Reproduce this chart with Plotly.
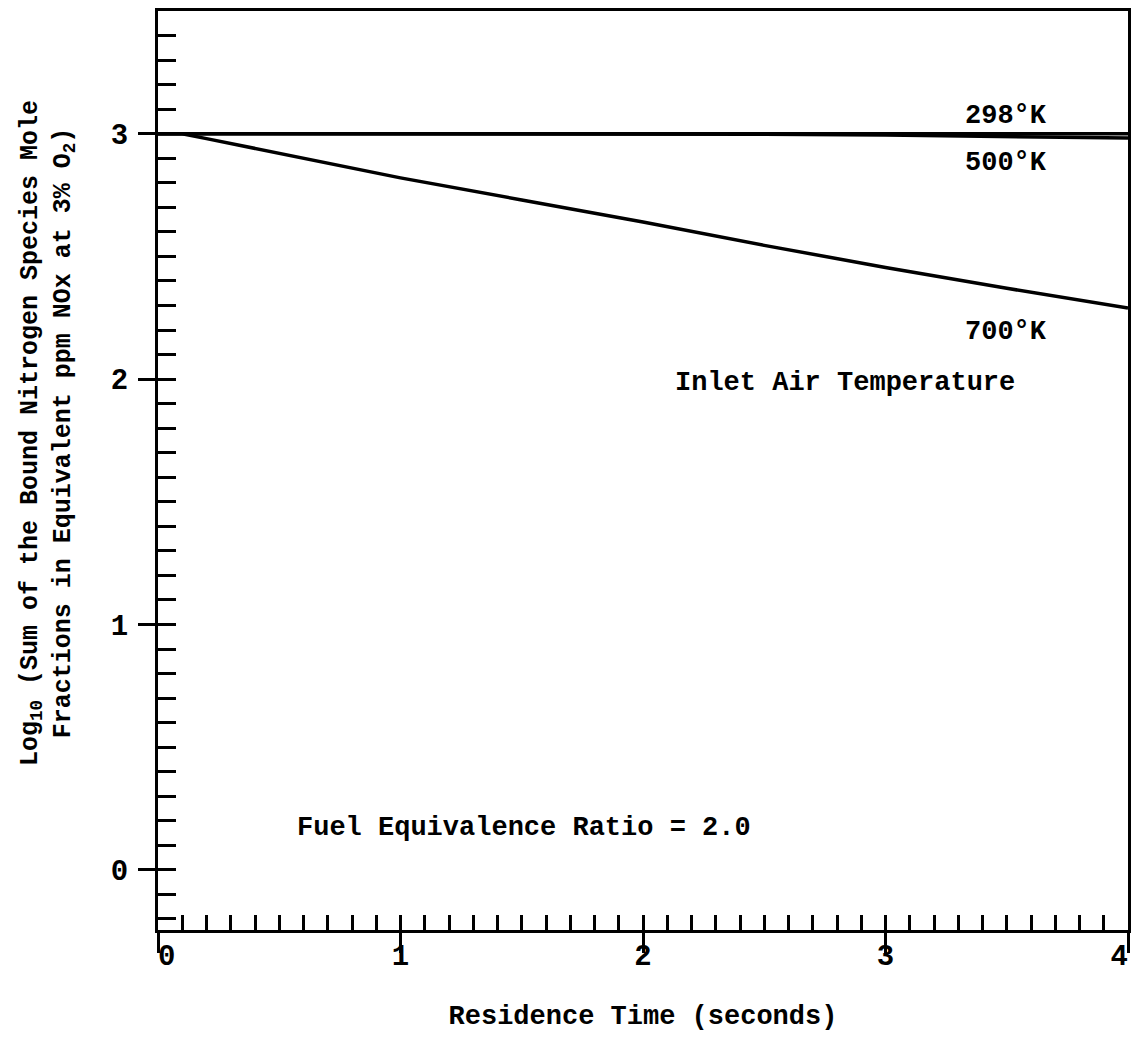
import plotly.graph_objects as go

# Data
time_s = [0.0, 0.1, 0.2, 0.5, 1.0, 1.5, 2.0, 2.5, 3.0, 3.5, 4.0]
log_298K = [3.0, 3.0, 3.0, 3.0, 3.0, 3.0, 3.0, 3.0, 3.0, 3.0, 3.0]
log_500K = [3.0, 3.0, 3.0, 3.0, 3.0, 3.0, 3.0, 2.998, 2.995, 2.99, 2.982]
log_700K = [3.0, 3.0, 2.98, 2.92, 2.82, 2.73, 2.64, 2.545, 2.455, 2.37, 2.29]

x_tick_vals = [0, 1, 2, 3, 4]
x_tick_text = ["&nbsp;0", "1", "2", "3", "4&nbsp;"]
y_tick_vals = [0, 1, 2, 3]
y_tick_text = ["0", "1", "2", "3"]

series_names = ["298°K", "500°K", "700°K"]

FONT = "Liberation Mono"
INK = "black"

fig = go.Figure()
for name, vals in zip(series_names, [log_298K, log_500K, log_700K]):
    fig.add_trace(go.Scatter(x=time_s, y=vals, mode="lines", name=name,
                             line=dict(color=INK, width=3.5), showlegend=False))

# invisible trace so the overlay (minor tick) axes are drawn
fig.add_trace(go.Scatter(x=[None], y=[None], xaxis="x2", yaxis="y2",
                         showlegend=False, hoverinfo="skip"))

XR = [0, 4]
YR = [-0.245, 3.50]

PAD = "&nbsp;" * 5

fig.update_layout(
    width=1123, height=1030,
    margin=dict(l=150, r=3, t=3, b=108, autoexpand=False),
    paper_bgcolor="white", plot_bgcolor="white",
    font=dict(family=FONT, color=INK, size=27, weight="bold"),
    xaxis=dict(range=XR, tickvals=x_tick_vals, ticktext=x_tick_text,
               ticks="outside", ticklen=20, tickwidth=3, tickcolor=INK,
               showgrid=False, zeroline=False, automargin=False,
               showline=True, linewidth=3, linecolor=INK, mirror=True,
               tickfont=dict(size=29, family=FONT, weight="bold"),
               ticklabelstandoff=-23, ticklabeloverflow="allow",
               title=dict(text="Residence Time (seconds)", standoff=33,
                          font=dict(size=27, family=FONT, weight="bold"))),
    yaxis=dict(range=YR, tickvals=y_tick_vals, ticktext=y_tick_text,
               ticks="outside", ticklen=17, tickwidth=3, tickcolor=INK,
               showgrid=False, zeroline=False, automargin=False,
               showline=True, linewidth=3, linecolor=INK, mirror=True,
               tickfont=dict(size=29, family=FONT, weight="bold"),
               ticklabelstandoff=4,
               title=dict(text=PAD + "Log<sub>10</sub> (Sum of the Bound Nitrogen Species Mole<br>"
                               + PAD + "Fractions in Equivalent ppm NOx at 3% O<sub>2</sub>)",
                          standoff=34, font=dict(size=25, family=FONT, weight="bold"))),
    xaxis2=dict(range=XR, overlaying="x", anchor="y2", side="bottom",
                dtick=0.1, tick0=0, ticks="inside", ticklen=15, tickwidth=3,
                tickcolor=INK, showticklabels=False, showgrid=False,
                zeroline=False, showline=False, automargin=False),
    yaxis2=dict(range=YR, overlaying="y", anchor="x2", side="left",
                dtick=0.1, tick0=0, ticks="inside", ticklen=18, tickwidth=3,
                tickcolor=INK, showticklabels=False, showgrid=False,
                zeroline=False, showline=False, automargin=False),
)

annots = [
    (3.495, 3.073, "298°K"),
    (3.495, 2.88, "500°K"),
    (3.495, 2.19, "700°K"),
    (2.835, 1.985, "Inlet Air Temperature"),
    (1.51, 0.17, "Fuel Equivalence Ratio = 2.0"),
]
for ax, ay, txt in annots:
    fig.add_annotation(x=ax, y=ay, xref="x", yref="y", text=txt, showarrow=False,
                       font=dict(size=27, family=FONT, color=INK, weight="bold"),
                       xanchor="center", yanchor="middle")

fig.write_html("out.html")
